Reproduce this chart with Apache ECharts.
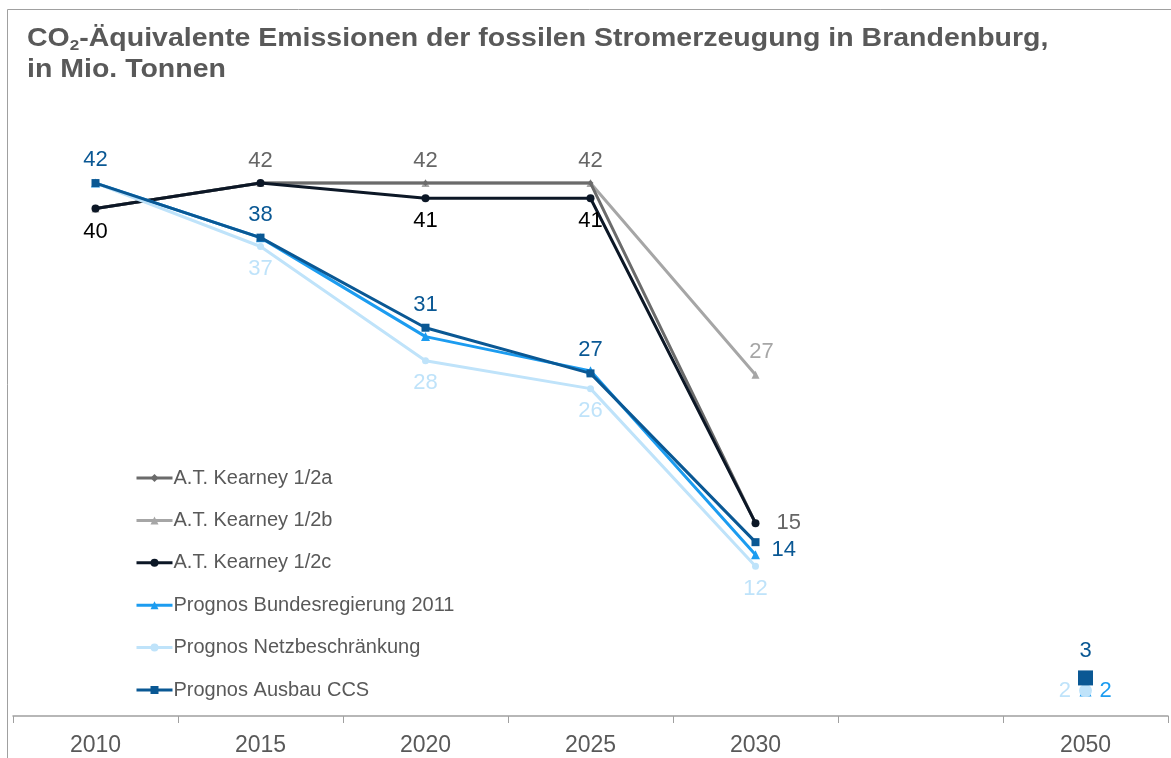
<!DOCTYPE html>
<html>
<head>
<meta charset="utf-8">
<script src="https://cdn.jsdelivr.net/npm/echarts@6/dist/echarts.min.js"></script>
<style>
html,body{margin:0;padding:0;background:#fff;}
#main{width:1171px;height:758px;}
</style>
</head>
<body>
<div id="main"></div>
<script>
// Kategorien (leere Spalte zwischen 2030 und 2050)
var years = ['2010', '2015', '2020', '2025', '2030', '', '2050'];
var seriesNames = ['A.T. Kearney 1/2a', 'A.T. Kearney 1/2b', 'A.T. Kearney 1/2c',
	'Prognos Bundesregierung 2011', 'Prognos Netzbeschränkung', 'Prognos Ausbau CCS'];

// Werte in Mio. Tonnen (Beschriftung gerundet)
var kearneyA = [40, 42, 42, 42, 15.2, null, null];
var kearneyB = [40, 42, 42, 42, 26.9, null, null];
var kearneyC = [40, 42, 40.8, 40.8, 15.2, null, null];
var prognosBund = [42, 37.7, 29.9, 27.2, 12.7, null, 2];
var prognosNetz = [42, 37, 28, 25.8, 11.8, null, 2];
var prognosCCS = [42, 37.7, 30.6, 27, 13.7, null, 3];

var FONT = '"Liberation Sans", Arial, sans-serif';
var TXT = '#595959';

// Beschriftungspositionen je Punkt (null = keine Beschriftung)
var styles = [
	{ color: '#6b6b6b', symbol: 'diamond', size: 6, data: kearneyA, lblColor: '#666666', z: 3,
		pos: [null, 'top', 'top', 'top', 'right', null, null], dist: { 4: 18 } },
	{ color: '#a6a6a6', symbol: 'triangle', size: 8, data: kearneyB, lblColor: '#a6a6a6', z: 2,
		pos: [null, null, null, null, 'top', null, null], off: { 4: [6, 0] } },
	{ color: '#0c1726', symbol: 'circle', size: 8, data: kearneyC, lblColor: '#000000', z: 4,
		pos: ['bottom', null, 'bottom', 'bottom', null, null, null] },
	{ color: '#1c9cf0', symbol: 'triangle', size: 9, data: prognosBund, lblColor: '#1c9cf0', z: 5,
		pos: [null, null, null, null, null, null, 'right'], big: 12, dist: { 6: 8 } },
	{ color: '#bfe3fa', symbol: 'circle', size: 7, data: prognosNetz, lblColor: '#bfe3fa', z: 6,
		pos: [null, 'bottom', 'bottom', 'bottom', 'bottom', null, 'left'], big: 13, dist: { 6: 8 } },
	{ color: '#0a5894', symbol: 'rect', size: 8, data: prognosCCS, lblColor: '#0a5894', z: 7,
		pos: ['top', 'top', 'top', 'top', 'right', null, 'top'], big: 15, off: { 4: [0, 8] } }
];

var series = styles.map(function (s, k) {
	return {
		name: seriesNames[k],
		type: 'line',
		symbol: s.symbol,
		symbolSize: s.size,
		showAllSymbol: true,
		connectNulls: false,
		z: s.z,
		itemStyle: { color: s.color },
		lineStyle: { color: s.color, width: 3 },
		emphasis: { disabled: true },
		data: s.data.map(function (v, i) {
			var item = { value: v };
			if (i === 6 && s.big) {
				item.symbolSize = s.big;
			}
			if (s.pos[i]) {
				item.label = {
					show: true,
					position: s.pos[i],
					distance: (s.dist && s.dist[i]) || ((s.pos[i] === 'right' || s.pos[i] === 'left') ? 12 : 8),
					offset: (s.off && s.off[i]) || [0, 0],
					color: s.lblColor,
					fontSize: 22,
					fontFamily: FONT,
					formatter: function (p) { return Math.round(p.value); }
				};
			}
			return item;
		})
	};
});

var myChart = echarts.init(document.getElementById('main'));
var option = {
	animation: false,
	backgroundColor: '#fff',
	legend: {
		orient: 'vertical',
		left: 135,
		top: 468,
		padding: 0,
		itemWidth: 36,
		itemHeight: 10,
		itemGap: 22.4,
		data: seriesNames,
		lineStyle: { width: 3 },
		textStyle: { color: TXT, fontSize: 20, fontFamily: FONT, padding: [0, 0, 0, -4] }
	},
	graphic: [{
		type: 'rect',
		shape: { x: 7.5, y: 9.5, width: 1300, height: 900 },
		style: { fill: 'none', stroke: '#a0a0a0', lineWidth: 1 },
		silent: true,
		z: -1
	}, {
		type: 'text',
		x: 27,
		y: 24,
		scaleX: 1.14,
		silent: true,
		style: {
			text: 'CO{sub|2}-Äquivalente Emissionen der fossilen Stromerzeugung in Brandenburg,\nin Mio. Tonnen',
			fill: TXT,
			fontSize: 25,
			fontWeight: 'bold',
			fontFamily: FONT,
			lineHeight: 31,
			rich: {
				sub: { fontSize: 15, fontWeight: 'bold', fill: TXT, fontFamily: FONT, padding: [12, 0, 0, 0] }
			}
		}
	}],
	grid: {
		left: 13,
		right: 3,
		top: 145,
		bottom: 42
	},
	xAxis: {
		type: 'category',
		data: years,
		boundaryGap: true,
		axisLine: { lineStyle: { color: '#a0a0a0', width: 1.5 } },
		axisTick: { show: true, length: 7, lineStyle: { color: '#a0a0a0' } },
		axisLabel: { color: TXT, fontSize: 23, fontFamily: FONT, margin: 18 }
	},
	yAxis: {
		type: 'value',
		min: 0,
		max: 45,
		show: false,
		splitLine: { show: false }
	},
	series: series
};
myChart.setOption(option);
</script>
</body>
</html>
